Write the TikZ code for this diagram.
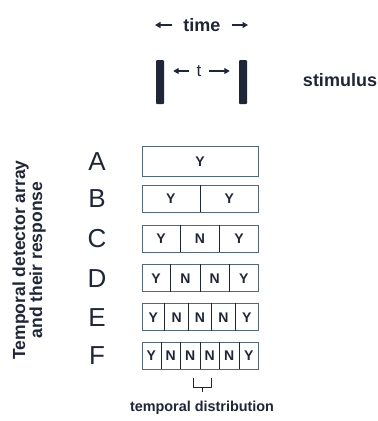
\documentclass[tikz,border=0pt]{standalone}
\usepackage{fontspec}
\setmainfont{Liberation Sans}
\usetikzlibrary{arrows.meta, positioning, calc}
\definecolor{inkblue}{RGB}{32,38,58}
\definecolor{framegray}{RGB}{80,104,134}

\begin{document}
\begin{tikzpicture}[
    x=1pt, y=-1pt,
    lbl/.style={text=inkblue, font=\fontsize{18}{18}\selectfont\bfseries, inner sep=0pt},
    letter/.style={text=inkblue, font=\fontsize{26}{26}\selectfont, inner sep=0pt, anchor=base},
    rowbox/.style={draw=framegray, line width=0.9pt, minimum width=116pt, minimum height=#1, inner sep=0pt},
    cell/.style={text=inkblue, font=\fontsize{14}{14}\selectfont\bfseries, inner sep=0pt, anchor=base},
    bar/.style={fill=inkblue, rounded corners=1pt, minimum width=8pt, minimum height=44pt, inner sep=0pt},
    flow/.style={-{Triangle[length=5.5pt, width=6pt]}, line width=1.3pt, inkblue},
]
    \useasboundingbox (0,0) rectangle (378,421);

    % Time axis
    \node[lbl, inner xsep=11pt] (time) at (202,25) {time};
    \coordinate (timeL) at (155,25);
    \coordinate (timeR) at (248,25);
    \draw[flow] (time.west) -- (timeL);
    \draw[flow] (time.east) -- (timeR);

    % Stimulus
    \node[bar] (barL) at (160,82) {};
    \node[bar] (barR) at (243,82) {};
    \node[text=inkblue, font=\fontsize{17}{17}\selectfont, inner sep=0pt, inner xsep=7pt] (tgap) at (199,71) {t};
    \draw[flow, shorten >=9pt] (tgap.west) -- (tgap.west -| barL.east);
    \draw[flow, shorten >=9pt] (tgap.east) -- (tgap.east -| barR.west);
    \node[lbl] (stim) at (340,80) {stimulus};

    % Side label
    \node[lbl, rotate=90, align=center, font=\fontsize{17.5}{17}\selectfont\bfseries] (array) at (29,260)
        {Temporal detector array\\and their response};

    % Detector rows
    \foreach \name/\ypos/\ht/\resp in {A/161/30pt/{Y}, B/198.5/27pt/{Y,Y}, C/238.5/27pt/{Y,N,Y},
        D/278/27pt/{Y,N,N,Y}, E/317/27pt/{Y,N,N,N,Y}, F/355.5/27pt/{Y,N,N,N,N,Y}} {
        \node[letter] (lab\name) at (97,\ypos+9.3) {\name};
        \node[rowbox=\ht] (row\name) at (200,\ypos) {};
        \foreach \r [count=\i] in \resp {\global\let\ncell\i}
        \foreach \r [count=\i] in \resp {
            \node[cell] (cell\name\i) at ($(row\name.west)!{(\i-0.5)/\ncell}!(row\name.east)+(0,5)$) {\r};
        }
        \foreach \i in {1,...,\ncell} {
            \ifnum\i<\ncell
                \draw[inkblue, line width=0.9pt] ($(row\name.north west)!{\i/\ncell}!(row\name.north east)$)
                    -- ($(row\name.south west)!{\i/\ncell}!(row\name.south east)$);
            \fi
        }
    }

    % Bracket
    \coordinate (brL) at (193,378);
    \coordinate (brR) at (211,378);
    \draw[inkblue, line width=0.9pt] (brL) -- ++(0,9) -| (brR);
    \draw[inkblue, line width=0.9pt] ($(brL)!0.5!(brR)+(0,9)$) -- ++(0,5);
    \node[lbl, font=\fontsize{14.4}{14.4}\selectfont\bfseries] (distr) at (202,408) {temporal distribution};

\end{tikzpicture}
\end{document}
